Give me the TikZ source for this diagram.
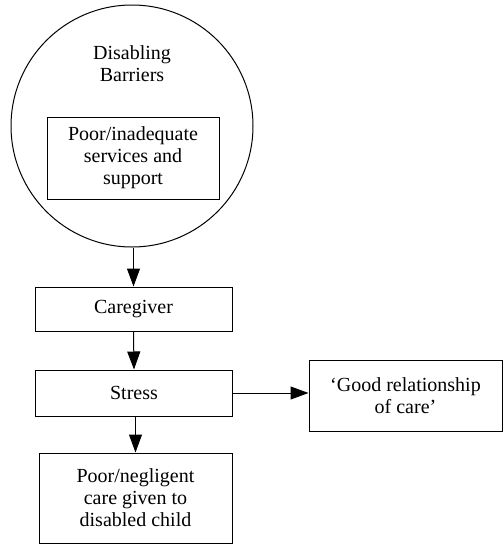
\documentclass[tikz,border=0pt]{standalone}
\usepackage{fontspec}
\setmainfont{Liberation Serif}
\usetikzlibrary{arrows.meta}
\begin{document}
\begin{tikzpicture}[x=1pt,y=-1pt,
  every node/.style={font=\fontsize{20}{22}\selectfont, align=center, inner sep=0pt},
  box/.style={draw, line width=1pt},
  link/.style={draw, line width=1pt, -{Triangle[length=18pt,width=13pt]}}]
\useasboundingbox (0,0) rectangle (503,544);
% barriers circle with its inner box
\node[draw, circle, line width=1pt, minimum size=242pt] (barriers) at (132,126) {};
\node (title) at (132,64) {Disabling\\Barriers};
\node[box, minimum width=172pt, minimum height=82pt] (services) at (133,158)
  {Poor/inadequate\\services and\\support};
% chain of boxes
\node[box, minimum width=197pt, minimum height=44pt] (caregiver) at (133.5,309) {Caregiver};
\node[box, minimum width=197pt, minimum height=46pt] (stress) at (134,393) {Stress};
\node[box, minimum width=193pt, minimum height=90pt] (care) at (135.5,498)
  {Poor/negligent\\care given to\\disabled child};
\node[box, minimum width=193pt, minimum height=71pt] (good) at (405.5,395.5)
  {‘Good relationship\\of care’};
% connectors
\draw[link] (barriers.south -| caregiver.north) -- (caregiver.north);
\draw[link] (caregiver.south) -- (stress.north);
\draw[link] (stress.south -| care.north) -- (care.north);
\draw[link] (stress.east) -- (stress.east -| good.west);
\end{tikzpicture}
\end{document}
